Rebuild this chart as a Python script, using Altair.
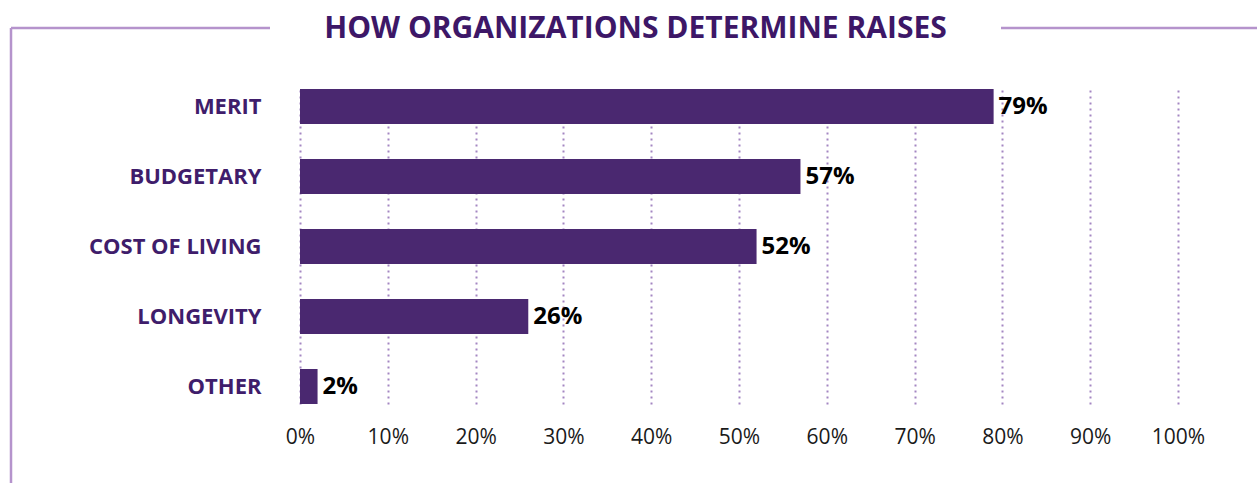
import altair as alt
import pandas as pd

categories = ["MERIT", "BUDGETARY", "COST OF LIVING", "LONGEVITY", "OTHER"]
values = [79, 57, 52, 26, 2]
value_labels = ["79%", "57%", "52%", "26%", "2%"]
x_ticks = [0, 10, 20, 30, 40, 50, 60, 70, 80, 90, 100]
title_text = "HOW ORGANIZATIONS DETERMINE RAISES"

df = pd.DataFrame({"cat": categories, "val": values, "lab": value_labels})
one = pd.DataFrame({"a": [0]})

W, H = 878, 315
PL, PT = 300, 89
FRAME = "#b593cc"
FONT = "Open Sans"

y_enc = alt.Y(
    "cat:N",
    sort=categories,
    scale=alt.Scale(paddingInner=0.5, paddingOuter=0),
    axis=alt.Axis(
        title=None, labelFont=FONT, labelFontSize=22, labelFontWeight="bold",
        labelColor="#3f1d6b", labelPadding=39, ticks=False, domain=False, grid=False,
    ),
)
x_enc = alt.X(
    "val:Q",
    scale=alt.Scale(domain=[0, 100], nice=False),
    axis=alt.Axis(
        title=None, values=x_ticks, labelExpr="datum.value + '%'",
        labelFont=FONT, labelFontSize=21, labelColor="#1a1a1a", labelPadding=22,
        labelFlush=False, ticks=False, domain=False, grid=True, gridDash=[2, 4],
        gridColor="#a486c2", gridWidth=2,
    ),
)

bars = alt.Chart(df).mark_bar(color="#4a2870").encode(x=x_enc, y=y_enc)
text = alt.Chart(df).mark_text(
    align="left", baseline="middle", dx=5, font=FONT, fontSize=24,
    fontWeight="bold", color="#000000",
).encode(x="val:Q", y=alt.Y("cat:N", sort=categories), text="lab:N")

title = alt.Chart(one).mark_text(
    align="center", baseline="alphabetic", font=FONT, fontSize=30,
    fontWeight="bold", color="#3d1767",
).encode(x=alt.value(635.5 - PL), y=alt.value(38 - PT), text=alt.value(title_text))

rule_tl = alt.Chart(one).mark_rule(color=FRAME, strokeWidth=2.5).encode(
    x=alt.value(11 - PL), x2=alt.value(270 - PL), y=alt.value(28 - PT))
rule_tr = alt.Chart(one).mark_rule(color=FRAME, strokeWidth=2.5).encode(
    x=alt.value(1001 - PL), x2=alt.value(1257 - PL), y=alt.value(28 - PT))
rule_l = alt.Chart(one).mark_rule(color=FRAME, strokeWidth=2.5).encode(
    x=alt.value(11 - PL), y=alt.value(28 - PT), y2=alt.value(483 - PT))

chart = alt.layer(rule_tl, rule_tr, rule_l, bars, text, title).properties(
    width=W, height=H,
    autosize=alt.AutoSizeParams(type="none"),
    padding={"left": PL, "top": PT, "right": 1257 - PL - W, "bottom": 483 - PT - H},
).configure_view(stroke=None)

chart.save("out.html", embed_options={"renderer": "svg", "actions": False})
